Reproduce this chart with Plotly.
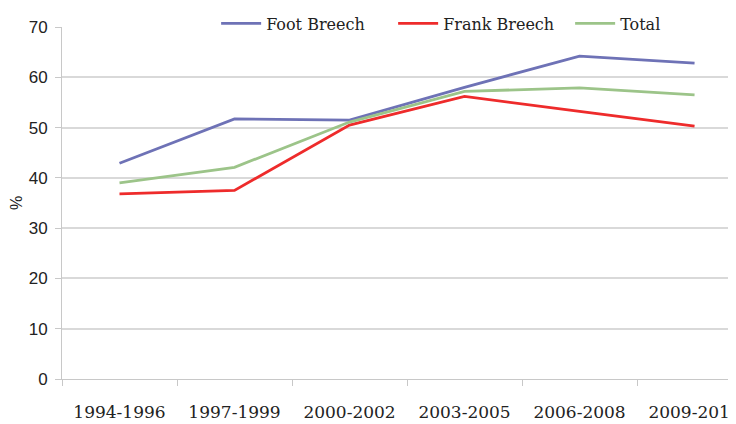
import plotly.graph_objects as go

periods = ["1994-1996", "1997-1999", "2000-2002", "2003-2005", "2006-2008", "2009-2010"]
foot_breech = [42.9, 51.7, 51.5, 58.0, 64.2, 62.8]
frank_breech = [36.8, 37.5, 50.5, 56.2, 53.2, 50.3]
total = [39.0, 42.1, 51.1, 57.2, 57.9, 56.5]

series = [
    ("Foot Breech", foot_breech, "#6e72b6"),
    ("Frank Breech", frank_breech, "#ee2b2b"),
    ("Total", total, "#9cc489"),
]

SERIF = "DejaVu Serif, serif"
SANS = "Liberation Sans, sans-serif"

fig = go.Figure()
for name, values, colour in series:
    fig.add_trace(go.Scatter(
        x=periods, y=values, name=name, mode="lines",
        line={"color": colour, "width": 2.8},
    ))

# The page body keeps its default 8px margin, so the margins below are offset by it.
fig.update_layout(
    width=736, height=424,
    margin={"l": 54, "r": 0, "t": 19, "b": 53, "autoexpand": False},
    paper_bgcolor="white", plot_bgcolor="white",
    font={"family": SERIF, "size": 16, "color": "#222"},
    showlegend=True,
    legend={
        "orientation": "h", "x": 0.226, "xanchor": "left", "y": 1.01, "yanchor": "middle",
        "bgcolor": "white", "font": {"size": 16, "family": SERIF}, "tracegroupgap": 0,
        "itemwidth": 40, "entrywidth": 122, "entrywidthmode": "pixels",
    },
)
fig.update_xaxes(
    range=[-0.5, 5.43], showgrid=False, showline=True, linecolor="#c8c8c8", linewidth=1,
    ticks="outside", tickson="boundaries", ticklen=6, tickcolor="#c8c8c8",
    ticklabelstandoff=18, tickfont={"size": 17, "family": SERIF},
)
fig.update_yaxes(
    range=[0, 70], dtick=10, showgrid=True, gridcolor="#d9d9d9", gridwidth=2,
    showline=True, linecolor="#c8c8c8", linewidth=1, zeroline=False,
    ticks="outside", ticklen=6, tickcolor="#c8c8c8", ticklabelstandoff=4,
    tickfont={"size": 17, "family": SANS},
    title={"text": "%", "font": {"size": 16, "family": SANS}, "standoff": 4},
)

fig.write_html("out.html")
